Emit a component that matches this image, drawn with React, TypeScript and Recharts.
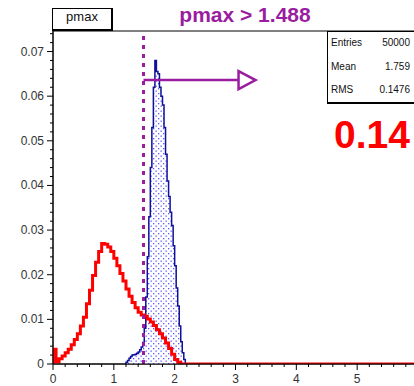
import React from 'react';
import { ComposedChart, Line, Area, XAxis, YAxis, ReferenceLine, ReferenceDot, ReferenceArea } from 'recharts';

// red histogram (background), bins of 0.05 starting at 0
const redStart = 0;
const redBinWidth = 0.05;
const redValues = [
  0.0033, 0.0005, 0.0012, 0.0018, 0.0025, 0.0033, 0.0043, 0.0055, 0.0068, 0.0085,
  0.0105, 0.0135, 0.0165, 0.0198, 0.0228, 0.0252, 0.027, 0.0268, 0.0262, 0.0252,
  0.0237, 0.022, 0.0203, 0.0186, 0.0168, 0.0152, 0.0138, 0.0126, 0.0116, 0.011,
  0.0107, 0.0101, 0.0094, 0.0086, 0.0077, 0.0068, 0.0058, 0.0047, 0.0035, 0.0022,
  0.001, 0.0004,
];

// blue histogram (signal), bins of 0.025 starting at 1.2
const blueStart = 1.2;
const blueBinWidth = 0.025;
const blueValues = [
  0.0004, 0.0008, 0.0013, 0.0017, 0.002, 0.0021, 0.0022, 0.0024, 0.0027, 0.0032,
  0.0038, 0.0048, 0.008, 0.015, 0.024, 0.033, 0.044, 0.053, 0.062, 0.068,
  0.0655, 0.065, 0.062, 0.06, 0.058, 0.053, 0.047, 0.041, 0.0375, 0.034,
  0.031, 0.0265, 0.022, 0.017, 0.013, 0.0085, 0.005, 0.0025, 0.001,
];

const xMajorTicks = [0, 1, 2, 3, 4, 5, 6];
const yMajorTicks = [0, 0.01, 0.02, 0.03, 0.04, 0.05, 0.06, 0.07];
const cut = 1.488;
const arrowY = 0.0636;
const arrowEnd = 3.05;

const X_MAX = 6;
const Y_MAX = 0.0746;
const PURPLE = '#9a1c9f';

const toSteps = (start: number, width: number, values: number[], tailTo?: number) => {
  const pts = [{ x: start, y: 0 }];
  values.forEach((v, i) => pts.push({ x: +(start + i * width).toFixed(4), y: v }));
  const end = +(start + values.length * width).toFixed(4);
  pts.push({ x: end, y: 0 });
  if (tailTo !== undefined) pts.push({ x: tailTo, y: 0 });
  return pts;
};

const redData = toSteps(redStart, redBinWidth, redValues, X_MAX);
const blueData = toSteps(blueStart, blueBinWidth, blueValues);

const xTicks: number[] = [];
for (let i = 0; i <= 30; i++) xTicks.push(+(i * 0.2).toFixed(2));
const yTicks: number[] = [];
for (let i = 0; i <= 37; i++) yTicks.push(+(i * 0.002).toFixed(3));

const isMajor = (v: number, majors: number[]) => majors.some((m) => Math.abs(m - v) < 1e-6);

const XTick = (props: any) => {
  const { x, y, payload } = props;
  const major = isMajor(payload.value, xMajorTicks);
  return (
    <g>
      <line x1={x} x2={x} y1={y} y2={y + (major ? 6 : 3)} stroke="#000" strokeWidth={1} />
      {major && (
        <text x={x} y={y + 19} textAnchor="middle" fontSize={12} fill="#333" fontFamily="Liberation Sans, Arial, sans-serif">
          {payload.value}
        </text>
      )}
    </g>
  );
};

const YTick = (props: any) => {
  const { x, y, payload } = props;
  const major = isMajor(payload.value, yMajorTicks);
  return (
    <g>
      <line x1={x - (major ? 6 : 3)} x2={x} y1={y} y2={y} stroke="#000" strokeWidth={1} />
      {major && (
        <text x={x - 9} y={y + 4} textAnchor="end" fontSize={12} fill="#333" fontFamily="Liberation Sans, Arial, sans-serif">
          {payload.value}
        </text>
      )}
    </g>
  );
};

const ArrowHead = (props: any) => {
  const { cx, cy } = props;
  return (
    <polygon
      points={`${cx},${cy - 9} ${cx + 17},${cy} ${cx},${cy + 9}`}
      fill="#fff"
      stroke={PURPLE}
      strokeWidth={2.5}
    />
  );
};

const font = 'Liberation Sans, Arial, sans-serif';

export default function App() {
  return (
    <div style={{ position: 'absolute', left: 0, top: 0, width: 414, height: 386, overflow: 'hidden', background: '#fff', fontFamily: font }}>
      <ComposedChart width={440} height={386} margin={{ top: 31, right: 22, bottom: 0, left: 0 }}>
        <defs>
          <pattern id="dots" width="5" height="5" patternUnits="userSpaceOnUse">
            <rect width="5" height="5" fill="#fff" />
            <rect x="0.5" y="0.5" width="1.3" height="1.3" fill="#5a5aff" />
            <rect x="3" y="3" width="1.3" height="1.3" fill="#5a5aff" />
          </pattern>
        </defs>
        <XAxis
          dataKey="x"
          type="number"
          domain={[0, X_MAX]}
          ticks={xTicks}
          interval={0}
          allowDataOverflow
          height={22}
          axisLine={{ stroke: '#000' }}
          tickLine={false}
          tickSize={0}
          tickMargin={0}
          tick={<XTick />}
        />
        <YAxis
          type="number"
          domain={[0, Y_MAX]}
          ticks={yTicks}
          interval={0}
          allowDataOverflow
          width={53}
          axisLine={{ stroke: '#000' }}
          tickLine={false}
          tickSize={0}
          tickMargin={0}
          tick={<YTick />}
        />
        <ReferenceArea x1={0} x2={X_MAX} y1={0} y2={Y_MAX} fill="none" stroke="#000" strokeWidth={1} />
        <Area
          data={blueData}
          dataKey="y"
          type="stepAfter"
          stroke="#10109a"
          strokeWidth={1.5}
          fill="url(#dots)"
          fillOpacity={1}
          baseValue={0}
          isAnimationActive={false}
          dot={false}
          activeDot={false}
        />
        <Line
          data={redData}
          dataKey="y"
          type="stepAfter"
          stroke="#ff0000"
          strokeWidth={3}
          dot={false}
          activeDot={false}
          isAnimationActive={false}
        />
        <ReferenceLine x={cut} stroke={PURPLE} strokeWidth={3} strokeDasharray="4 5" />
        <ReferenceLine
          segment={[{ x: cut, y: arrowY }, { x: arrowEnd, y: arrowY }]}
          stroke={PURPLE}
          strokeWidth={2.5}
        />
        <ReferenceDot x={arrowEnd} y={arrowY} shape={<ArrowHead />} />
      </ComposedChart>

      {/* title box */}
      <div style={{ position: 'absolute', left: 52, top: 8, width: 58, height: 20, border: '1px solid #000', borderRightWidth: 2, borderBottomWidth: 2, background: '#fff', fontSize: 13, lineHeight: '16px', textAlign: 'center', color: '#111' }}>
        pmax
      </div>
      <div style={{ position: 'absolute', left: 150, top: 3, width: 190, textAlign: 'center', fontSize: 21, fontWeight: 'bold', color: PURPLE }}>
        pmax &gt; 1.488
      </div>

      {/* stats box */}
      <div style={{ position: 'absolute', left: 327, top: 31, width: 100, height: 70, border: '1px solid #000', borderBottomWidth: 2, background: '#fff', fontSize: 10, color: '#111' }}>
        {[['Entries', '50000'], ['Mean', '1.759'], ['RMS', '0.1476']].map(([k, v], i) => (
          <div key={k} style={{ position: 'absolute', left: 3, top: 5 + i * 23.5, width: 79, display: 'flex', justifyContent: 'space-between' }}>
            <span>{k}</span>
            <span>{v}</span>
          </div>
        ))}
      </div>

      <div style={{ position: 'absolute', left: 334, top: 113, fontSize: 39, fontWeight: 'bold', color: '#ff0000' }}>
        0.14
      </div>
    </div>
  );
}
